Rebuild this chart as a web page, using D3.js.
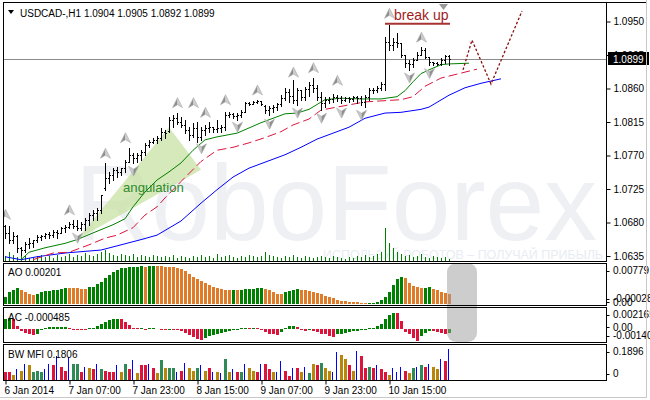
<!DOCTYPE html>
<html><head><meta charset="utf-8">
<script src="https://cdn.jsdelivr.net/npm/d3@7"></script>
<style>
body{margin:0;background:#fff}
text{font-family:"Liberation Sans",Arial,sans-serif}
</style>
</head><body>
<svg id="c" width="650" height="400"></svg>
<script>
// ---------------- DATA ----------------
const symbol = "USDCAD-,H1";
const lastQuote = [1.0904, 1.0905, 1.0892, 1.0899]; // O H L C of current bar
const bid = 1.0899;

const timeIdx = [0, 16, 32, 48, 64, 80, 96];
const timeLabels = ["6 Jan 2014", "7 Jan 07:00", "7 Jan 23:00", "8 Jan 15:00", "9 Jan 07:00", "9 Jan 23:00", "10 Jan 15:00"];
const priceTicks = [1.0950, 1.0905, 1.0860, 1.0815, 1.0770, 1.0725, 1.0680, 1.0635];

const opens = [1.0675,1.0666,1.0657,1.0662,1.0646,1.0643,1.0651,1.0652,1.0657,1.0661,
1.0662,1.0665,1.0663,1.0667,1.0666,1.0673,1.0674,1.0678,1.0675,1.0673,
1.0678,1.0683,1.0690,1.0693,1.0697,1.0726,1.0740,1.0744,1.0751,1.0748,
1.0753,1.0761,1.0771,1.0767,1.0771,1.0775,1.0784,1.0788,1.0791,1.0794,
1.0802,1.0803,1.0818,1.0820,1.0815,1.0811,1.0804,1.0798,1.0807,1.0795,
1.0804,1.0807,1.0808,1.0806,1.0807,1.0808,1.0824,1.0826,1.0823,1.0824,
1.0828,1.0841,1.0839,1.0842,1.0843,1.0837,1.0831,1.0834,1.0835,1.0839,
1.0847,1.0855,1.0850,1.0845,1.0858,1.0849,1.0859,1.0865,1.0861,1.0849,
1.0841,1.0845,1.0846,1.0849,1.0847,1.0845,1.0847,1.0846,1.0849,1.0847,
1.0842,1.0849,1.0858,1.0858,1.0861,1.0866,1.0922,1.0918,1.0922,1.0921,
1.0905,1.0894,1.0893,1.0898,1.0905,1.0912,1.0902,1.0896,1.0894,1.0893,
1.0898,1.0904];
const highs = [1.0677,1.0675,1.0667,1.0663,1.0647,1.0654,1.0659,1.0657,1.0663,1.0663,
1.0666,1.0667,1.0670,1.0670,1.0674,1.0677,1.0681,1.0683,1.0683,1.0681,
1.0686,1.0693,1.0697,1.0700,1.0717,1.0760,1.0748,1.0753,1.0755,1.0753,
1.0764,1.0780,1.0773,1.0773,1.0777,1.0787,1.0791,1.0794,1.0796,1.0807,
1.0804,1.0822,1.0824,1.0827,1.0822,1.0818,1.0808,1.0814,1.0815,1.0808,
1.0811,1.0815,1.0808,1.0818,1.0811,1.0828,1.0828,1.0827,1.0827,1.0831,
1.0842,1.0842,1.0843,1.0845,1.0843,1.0838,1.0836,1.0838,1.0841,1.0851,
1.0861,1.0859,1.0871,1.0861,1.0858,1.0862,1.0869,1.0874,1.0865,1.0855,
1.0849,1.0849,1.0853,1.0851,1.0850,1.0849,1.0849,1.0850,1.0850,1.0850,
1.0851,1.0861,1.0861,1.0863,1.0869,1.0929,1.0945,1.0928,1.0935,1.0921,
1.0905,1.0898,1.0901,1.0909,1.0916,1.0914,1.0902,1.0896,1.0896,1.0901,
1.0905,1.0905];
const lows = [1.0659,1.0652,1.0652,1.0640,1.0636,1.0640,1.0646,1.0647,1.0654,1.0657,
1.0659,1.0659,1.0661,1.0659,1.0666,1.0667,1.0673,1.0673,1.0670,1.0670,
1.0670,1.0677,1.0683,1.0683,1.0693,1.0724,1.0733,1.0737,1.0741,1.0744,
1.0748,1.0761,1.0760,1.0761,1.0764,1.0771,1.0781,1.0787,1.0787,1.0791,
1.0794,1.0802,1.0808,1.0812,1.0808,1.0800,1.0791,1.0795,1.0788,1.0791,
1.0798,1.0802,1.0802,1.0802,1.0802,1.0804,1.0822,1.0820,1.0818,1.0822,
1.0828,1.0838,1.0839,1.0841,1.0838,1.0827,1.0824,1.0828,1.0831,1.0836,
1.0845,1.0842,1.0841,1.0838,1.0845,1.0845,1.0850,1.0855,1.0845,1.0831,
1.0835,1.0841,1.0842,1.0843,1.0841,1.0843,1.0842,1.0843,1.0841,1.0838,
1.0835,1.0845,1.0854,1.0855,1.0858,1.0858,1.0912,1.0912,1.0916,1.0902,
1.0889,1.0885,1.0889,1.0898,1.0905,1.0901,1.0892,1.0892,1.0892,1.0892,
1.0894,1.0892];
const closes = [1.0666,1.0657,1.0662,1.0646,1.0643,1.0651,1.0652,1.0657,1.0661,1.0662,
1.0665,1.0663,1.0667,1.0666,1.0673,1.0674,1.0678,1.0675,1.0673,1.0678,
1.0683,1.0690,1.0693,1.0697,1.0717,1.0740,1.0744,1.0751,1.0748,1.0753,
1.0761,1.0771,1.0767,1.0771,1.0775,1.0784,1.0788,1.0791,1.0794,1.0802,
1.0800,1.0818,1.0820,1.0815,1.0811,1.0804,1.0798,1.0807,1.0795,1.0804,
1.0807,1.0808,1.0806,1.0807,1.0808,1.0824,1.0826,1.0823,1.0824,1.0828,
1.0841,1.0839,1.0842,1.0843,1.0839,1.0831,1.0834,1.0835,1.0839,1.0847,
1.0855,1.0850,1.0845,1.0858,1.0849,1.0859,1.0865,1.0861,1.0849,1.0841,
1.0845,1.0846,1.0849,1.0847,1.0845,1.0847,1.0846,1.0849,1.0847,1.0842,
1.0849,1.0858,1.0858,1.0861,1.0866,1.0922,1.0918,1.0922,1.0921,1.0905,
1.0894,1.0893,1.0898,1.0905,1.0912,1.0902,1.0896,1.0894,1.0893,1.0898,
1.0904,1.0899];
const volumes = [1000,1800,1200,800,1400,1000,600,800,1000,1200,
800,1000,600,1200,800,1000,1400,800,1200,1000,
1600,1200,1000,1400,1800,2200,1600,1200,1000,1400,
1200,1000,1400,800,1200,1000,800,1200,1000,800,
1000,800,1200,600,1000,800,600,1000,800,1200,
800,1000,600,1400,800,1000,1200,800,600,1000,
800,1200,1000,800,1000,1800,1200,1000,800,600,
1000,800,1200,800,600,1000,800,600,800,1000,
800,600,1000,800,600,400,800,600,1000,800,
1200,800,1000,1400,1800,6600,3600,2600,1800,1400,
1000,1200,800,1000,1400,800,600,1000,800,600,
800,400];

// Alligator lines: [bar index, price]
const lips = [[4,1.0630],[6,1.0640],[10,1.0646],[15,1.0652],[18,1.0657],[22,1.0666],[27,1.0677],[30,1.0685],[32,1.0701],[35,1.0721],[38,1.0737],[41,1.0748],[44,1.0760],[47,1.0777],[50,1.0791],[53,1.0795],[58,1.0800],[61,1.0807],[64,1.0814],[68,1.0822],[70,1.0826],[73,1.0827],[76,1.0832],[80,1.0845],[84,1.0847],[89,1.0846],[94,1.0846],[98,1.0849],[100,1.0857],[102,1.0869],[104,1.0880],[106,1.0885],[109,1.0892],[111,1.0893],[116,1.0894]];
const teeth = [[7,1.0630],[12,1.0639],[16,1.0640],[21,1.0650],[25,1.0659],[28,1.0663],[32,1.0673],[35,1.0690],[38,1.0701],[40,1.0713],[44,1.0735],[49,1.0762],[53,1.0777],[57,1.0781],[61,1.0787],[65,1.0794],[69,1.0802],[72,1.0811],[76,1.0819],[79,1.0831],[84,1.0836],[90,1.0842],[99,1.0845],[102,1.0849],[105,1.0863],[109,1.0874],[112,1.0878],[118,1.0886]];
const jaw = [[0,1.0634],[4,1.0630],[8,1.0634],[15,1.0639],[24,1.0643],[29,1.0650],[34,1.0657],[38,1.0663],[44,1.0682],[49,1.0706],[53,1.0724],[57,1.0741],[61,1.0753],[65,1.0761],[70,1.0771],[74,1.0781],[78,1.0792],[82,1.0800],[86,1.0808],[90,1.0820],[95,1.0827],[99,1.0828],[104,1.0832],[106,1.0835],[111,1.0851],[115,1.0861],[119,1.0867],[124,1.0873]];
const forecast = [[114.5,1.0885],[116.75,1.0925],[121.5,1.0866],[129.25,1.0964]];

// Fractals
const upFractalIdx = [0,16,25,30,43,47,50,55,63,72,77,83,96,104];
const upFractalPrice = [1.0691,1.0697,1.0773,1.0794,1.0841,1.0841,1.0828,1.0845,1.0858,1.0882,1.0888,1.0871,1.0961,1.0929];
const downFractalIdx = [18,32,49,58,66,73,79,84,89,101,106];
const downFractalPrice = [1.0659,1.0749,1.0779,1.0808,1.0812,1.0827,1.0820,1.0827,1.0824,1.0874,1.0880];

// Annotations
const angulation = [[18,1.0657],[41,1.0808],[49,1.0751]];
const breakLevel = 1.0947, breakFrom = 95, breakTo = 111.25;

// Indicators
const ao = [0.00141,0.00242,0.00276,0.00310,0.00276,0.00229,0.00195,0.00175,0.00195,0.00229,
0.00256,0.00258,0.00269,0.00283,0.00296,0.00323,0.00310,0.00308,0.00306,0.00303,
0.00300,0.00330,0.00343,0.00390,0.00444,0.00525,0.00579,0.00633,0.00673,0.00713,
0.00727,0.00740,0.00747,0.00748,0.00752,0.00740,0.00756,0.00766,0.00760,0.00752,
0.00745,0.00740,0.00734,0.00713,0.00700,0.00660,0.00599,0.00545,0.00498,0.00458,
0.00411,0.00377,0.00343,0.00323,0.00296,0.00280,0.00270,0.00276,0.00270,0.00283,
0.00289,0.00296,0.00303,0.00316,0.00318,0.00303,0.00269,0.00229,0.00195,0.00190,
0.00229,0.00262,0.00283,0.00296,0.00283,0.00269,0.00256,0.00242,0.00222,0.00195,
0.00162,0.00135,0.00108,0.00081,0.00061,0.00054,0.00040,0.00034,0.00027,0.00013,
0.00004,0.00020,0.00021,0.00040,0.00074,0.00141,0.00242,0.00377,0.00498,0.00538,
0.00511,0.00411,0.00363,0.00330,0.00320,0.00325,0.00330,0.00296,0.00269,0.00242,
0.00222,0.00201];
const ac = [0.00110,0.00120,0.00100,0.00030,-0.00020,-0.00040,-0.00060,-0.00070,-0.00050,-0.00010,
0.00010,0.00015,0.00020,0.00021,0.00022,0.00023,0.00005,-0.00005,-0.00010,-0.00012,
-0.00013,0.00005,0.00010,0.00030,0.00050,0.00070,0.00090,0.00100,0.00110,0.00100,
0.00070,0.00040,0.00010,0.00005,0.00008,-0.00010,0.00005,0.00010,0.00002,-0.00005,
-0.00010,-0.00005,-0.00010,-0.00015,-0.00020,-0.00040,-0.00070,-0.00090,-0.00110,-0.00120,
-0.00100,-0.00080,-0.00070,-0.00060,-0.00040,-0.00030,-0.00025,-0.00015,-0.00005,0.00005,
0.00010,0.00008,0.00012,0.00005,-0.00010,-0.00030,-0.00050,-0.00060,-0.00065,-0.00030,
0.00010,0.00030,0.00035,0.00020,-0.00010,-0.00020,-0.00015,-0.00020,-0.00030,-0.00050,
-0.00060,-0.00080,-0.00085,-0.00060,-0.00050,-0.00040,-0.00030,-0.00025,-0.00020,-0.00015,
-0.00010,0.00005,0.00010,0.00025,0.00050,0.00100,0.00150,0.00170,0.00165,0.00080,
-0.00030,-0.00060,-0.00100,-0.00130,-0.00080,-0.00040,-0.00020,-0.00025,-0.00030,-0.00045,
-0.00050,-0.000485];
const mfi = [0.0415,0.0415,0.0296,0.0593,0.0533,0.0889,0.0830,0.0474,0.0533,0.0474,
0.0593,0.0948,0.0830,0.1422,0.0770,0.0533,0.1304,0.0889,0.0948,0.0474,
0.0770,0.0711,0.0593,0.0948,0.0593,0.0533,0.0474,0.0474,0.0830,0.0415,
0.0948,0.0593,0.1185,0.0356,0.0830,0.0830,0.0889,0.0652,0.0356,0.1185,
0.0652,0.0711,0.0652,0.0474,0.0533,0.1007,0.0711,0.0533,0.0652,0.0830,
0.0533,0.0652,0.0474,0.0415,0.0356,0.1244,0.0474,0.0593,0.0415,0.0415,
0.0889,0.0711,0.0533,0.0415,0.0948,0.0889,0.0593,0.0415,0.0474,0.1067,
0.0533,0.0237,0.0652,0.0652,0.0474,0.0770,0.0356,0.0889,0.0830,0.1007,
0.0652,0.0533,0.0474,0.1659,0.1481,0.1244,0.0830,0.0533,0.1718,0.1363,
0.0652,0.0770,0.0652,0.0830,0.0593,0.0415,0.0296,0.0652,0.0474,0.0770,
0.0533,0.0356,0.0652,0.0770,0.0830,0.0770,0.0889,0.0770,0.0593,0.1244,
0.1067,0.1806];
// BW MFI zones: G = green (MFI up, vol up), D = fade, K = fake, S = squat
const mfiZone = "SSDKDKDGGGKKSKSSKGGSKDSKGSSSKDGSKDSSKSDGDGGKSKDDGKDSKDKGDKSGKDDSKSSDKKSSKSDKGDSGDDKKDDSDKSSGSKSSDKKKSDGKGSKDDKSK";

const aoRange = [-0.00028, 0.00779];
const acRange = [-0.00140, 0.002165];
const mfiRange = [0, 0.1896];

// ---------------- DRAW ----------------
const svg = d3.select("#c");
const F = 10;
const L = 3.5, R = 606.5;
const P = {main:[2.5,261.5], ao:[263.5,305.5], ac:[307.5,342.5], mfi:[344.5,380.5]};

const x = d3.scaleLinear().domain([0,111]).range([5,449]);
const yP = d3.scaleLinear().domain([1.0635,1.0950]).range([256,21.5]);
const yV = d3.scaleLinear().domain([0,6600]).range([261,228]);
const yAO = d3.scaleLinear().domain(aoRange).range([305,265]);
const yAC = d3.scaleLinear().domain(acRange).range([342,308.5]);
const yMF = d3.scaleLinear().domain(mfiRange).range([379.5,347.5]);

svg.append("rect").attr("width",650).attr("height",400).attr("fill","#fff");

const defs = svg.append("defs");
defs.append("clipPath").attr("id","cm").append("rect").attr("x",4).attr("y",3).attr("width",602).attr("height",258);

const main = svg.append("g").attr("clip-path","url(#cm)");

// watermark
main.append("text").attr("x",75).attr("y",240).attr("font-size",107).attr("fill","#eef0f4")
  .attr("textLength",522).attr("lengthAdjust","spacingAndGlyphs").text("RoboForex");
main.append("text").attr("x",323).attr("y",259).attr("font-size",12.5).attr("fill","#e8ecf2")
  .attr("textLength",280).attr("lengthAdjust","spacingAndGlyphs").text("ИСПОЛЬЗУЙ РОБОТОВ – ПОЛУЧАЙ ПРИБЫЛЬ");

// angulation triangle
main.append("polygon").attr("points", angulation.map(d=>[x(d[0]),yP(d[1])].join(",")).join(" "))
  .attr("fill","#c5e09c").attr("opacity",0.7);

// volumes
main.append("g").selectAll("rect").data(volumes).join("rect")
  .attr("x",(d,i)=>Math.round(x(i))).attr("y",d=>Math.round(yV(d)))
  .attr("width",1).attr("height",d=>Math.round(yV(0))-Math.round(yV(d)))
  .attr("fill","#008000").attr("shape-rendering","crispEdges");

// bid line
main.append("line").attr("x1",4).attr("x2",606).attr("y1",Math.round(yP(bid))+0.5).attr("y2",Math.round(yP(bid))+0.5)
  .attr("stroke","#8c8c8c").attr("stroke-width",1);

// alligator
const ln = d3.line().x(d=>x(d[0])).y(d=>yP(d[1]));
main.append("path").attr("d",ln(jaw)).attr("fill","none").attr("stroke","#0000ff").attr("stroke-width",1);
main.append("path").attr("d",ln(teeth)).attr("fill","none").attr("stroke","#dc143c").attr("stroke-width",1).attr("stroke-dasharray","9,4");
main.append("path").attr("d",ln(lips)).attr("fill","none").attr("stroke","#008000").attr("stroke-width",1);
main.append("path").attr("d",ln(forecast)).attr("fill","none").attr("stroke","#8b1010").attr("stroke-width",1.3).attr("stroke-dasharray","2.5,2");

// price bars
const bars = main.append("g").attr("fill","#000").attr("shape-rendering","crispEdges");
closes.forEach((c,i)=>{
  const xi = Math.round(x(i));
  const yh = Math.round(yP(highs[i])), yl = Math.round(yP(lows[i]));
  bars.append("rect").attr("x",xi).attr("y",yh).attr("width",1).attr("height",Math.max(1,yl-yh+1));
  bars.append("rect").attr("x",xi-1).attr("y",Math.round(yP(opens[i]))).attr("width",1).attr("height",1);
  bars.append("rect").attr("x",xi+1).attr("y",Math.round(yP(c))).attr("width",1).attr("height",1);
});

// fractals
function arrow(g, cx, cy, up){
  const s = up?1:-1;
  g.append("path").attr("d",`M${cx},${cy-5*s} L${cx},${cy+2*s} L${cx-5},${cy+5*s} Z`).attr("fill",up?"#8e8e8e":"#c9c9c9");
  g.append("path").attr("d",`M${cx},${cy-5*s} L${cx+5},${cy+5*s} L${cx},${cy+2*s} Z`).attr("fill",up?"#cdcdcd":"#8e8e8e");
  g.append("path").attr("d",`M${cx},${cy-5*s} L${cx+5},${cy+5*s} L${cx},${cy+2*s} L${cx-5},${cy+5*s} Z`).attr("fill","none").attr("stroke","#a9a9a9").attr("stroke-width",0.6);
}
const fg = main.append("g");
upFractalIdx.forEach((i,k)=>arrow(fg, x(i)+0.5, yP(upFractalPrice[k]), true));
downFractalIdx.forEach((i,k)=>arrow(fg, x(i)+0.5, yP(downFractalPrice[k]), false));

// break up annotation
main.append("line").attr("x1",x(breakFrom)).attr("x2",x(breakTo)).attr("y1",yP(breakLevel)).attr("y2",yP(breakLevel))
  .attr("stroke","#a83232").attr("stroke-width",2.2);
main.append("text").attr("x",x(breakFrom)+9).attr("y",yP(breakLevel)-3.5).attr("font-size",14).attr("fill","#a01c1c").text("break up");
main.append("text").attr("x",123).attr("y",yP(1.0724)+2).attr("font-size",13.2).attr("fill","#2e8b2e").text("angulation");

// chart shift marker
svg.append("path").attr("d","M439,4 L448,4 L443.5,10 Z").attr("fill","#9a9a9a");

// header
svg.append("path").attr("d","M8,10 L14,10 L11,14 Z").attr("fill","#000");
svg.append("text").attr("x",20).attr("y",16.5).attr("font-size",F).attr("fill","#000")
  .text(symbol + "  " + lastQuote.map(d=>d.toFixed(4)).join(" "));

// right axis main
const axM = svg.append("g").attr("transform",`translate(${R},0)`)
  .call(d3.axisRight(yP).tickValues(priceTicks).tickFormat(d3.format(".4f")).tickSize(4).tickPadding(3));
axM.select(".domain").remove();
axM.selectAll("text").attr("font-size",F).attr("font-family","Liberation Sans, Arial").attr("fill","#000");
axM.selectAll("line").attr("stroke","#000");

// price box
const by = Math.round(yP(bid));
svg.append("rect").attr("x",608).attr("y",by-7).attr("width",41).attr("height",13).attr("fill","#000");
svg.append("text").attr("x",613).attr("y",by+4).attr("font-size",F).attr("fill","#fff").text(bid.toFixed(4));

// ---- AO ----
const g0 = svg.append("g").attr("shape-rendering","crispEdges");
function hist(g, vals, ys, colorFn, wFn){
  const z = ys(0);
  g.selectAll(null).data(vals).join("rect")
   .attr("x",(d,i)=>Math.round(x(i))-1).attr("width",(d,i)=>wFn?wFn(d,i):3)
   .attr("y",d=>Math.min(ys(d),z)).attr("height",d=>Math.max(0.8,Math.abs(ys(d)-z)))
   .attr("fill",colorFn);
}
hist(g0, ao, yAO, (d,i)=> (i===0||d>=ao[i-1])?"#008000":"#e07b2a");
hist(g0, ac, yAC, (d,i)=> (i===0||d>=ac[i-1])?"#008000":"#dc143c");
const mfiColor = {G:"#2e8b57", D:"#b8860b", K:"#0000ff", S:"#dc143c"};
hist(g0, mfi, yMF, (d,i)=>mfiColor[mfiZone[i]], (d,i)=> mfiZone[i]==="K"?1:3);
// blue (fake) bars are thin and centred
g0.selectAll("rect").filter(function(d,i){return false;});

// overlay
svg.append("rect").attr("x",447).attr("y",263).attr("width",30).attr("height",79).attr("rx",9)
  .attr("fill","#9b9b9b").attr("opacity",0.5);

// panel labels
svg.append("text").attr("x",8).attr("y",276).attr("font-size",F).text("AO " + ao[ao.length-1].toFixed(5));
svg.append("text").attr("x",8).attr("y",321).attr("font-size",F).text("AC " + ac[ac.length-1].toFixed(6));
svg.append("text").attr("x",8).attr("y",358).attr("font-size",F).text("BW MFI " + mfi[mfi.length-1].toFixed(4));

// sub-panel scale labels
function subLabels(range, ys, panel, fmt, zeroFmt){
  const [lo,hi] = range;
  const items = [[hi, panel[0]+10.5, fmt(hi)], [lo, panel[1]-3.5, lo===0?"0":fmt(lo)]];
  if (lo < 0) items.push([0, ys(0)+2, zeroFmt]);
  items.forEach(([v,yy,t])=>{
    svg.append("text").attr("x",613).attr("y",yy).attr("font-size",F).attr("fill","#000").text(t);
    svg.append("line").attr("x1",R).attr("x2",R+3).attr("y1",Math.round(yy-3.5)+0.5).attr("y2",Math.round(yy-3.5)+0.5).attr("stroke","#000");
  });
}
subLabels(aoRange, yAO, P.ao, d=>d3.format(".5f")(d).replace("−","-"), "0.00");
subLabels(acRange, yAC, P.ac, d=> d>0 ? d.toFixed(6) : d.toFixed(5), "0.00");
subLabels(mfiRange, yMF, P.mfi, d=>d.toFixed(4), "0");

// frames
const fr = svg.append("g").attr("fill","none").attr("stroke","#000").attr("stroke-width",1).attr("shape-rendering","crispEdges");
Object.values(P).forEach(([t,b])=>{
  fr.append("rect").attr("x",L).attr("y",t).attr("width",R-L).attr("height",b-t);
});
fr.append("line").attr("x1",R).attr("x2",647).attr("y1",2.5).attr("y2",2.5);

// bottom axis
const axB = svg.append("g").attr("transform",`translate(0,${P.mfi[1]})`)
  .call(d3.axisBottom(x).tickValues(timeIdx).tickFormat((d,i)=>timeLabels[i]).tickSize(4).tickPadding(2));
axB.select(".domain").remove();
axB.selectAll("line").attr("stroke","#000").attr("transform","translate(0.5,0)");
axB.selectAll("text").attr("font-size",F).attr("font-family","Liberation Sans, Arial").attr("fill","#000")
  .attr("text-anchor","start").attr("dx",-1);

// window border
svg.append("line").attr("x1",646.5).attr("x2",646.5).attr("y1",0).attr("y2",398).attr("stroke","#c8c8c8");
svg.append("line").attr("x1",0).attr("x2",647).attr("y1",397.5).attr("y2",397.5).attr("stroke","#c8c8c8");
</script>
</body></html>
